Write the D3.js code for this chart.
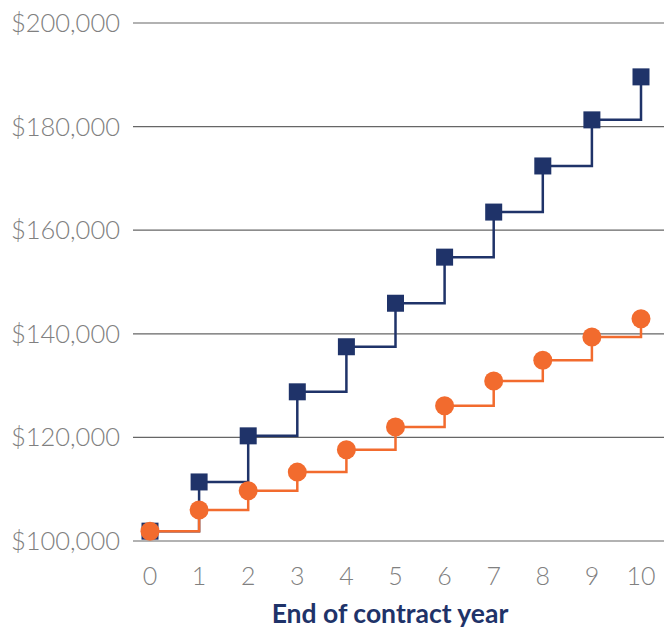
<!DOCTYPE html>
<html><head><meta charset="utf-8">
<script src="https://cdn.jsdelivr.net/npm/d3@7/dist/d3.min.js"></script>
<style>body{margin:0;background:#fff}</style>
</head><body>
<svg id="c" width="664" height="630"></svg>
<script>
const years = [0,1,2,3,4,5,6,7,8,9,10];
const seriesBlue = [101900,111400,120300,128800,137500,145900,154800,163500,172400,181300,189600];
const seriesOrange = [101900,106000,109700,113300,117600,122000,126100,130900,134900,139400,142900];
const yTicks = [100000,120000,140000,160000,180000,200000];
const xTitle = "End of contract year";

const svg = d3.select("#c");
const x = d3.scaleLinear().domain([0,10]).range([150,641]);
const y = d3.scaleLinear().domain([100000,200000]).range([541,23]);
const navy = "#1f3369", orange = "#f26b2e";

svg.append("g").selectAll("line").data(yTicks).join("line")
  .attr("x1",133).attr("x2",664)
  .attr("y1",d=>y(d)).attr("y2",d=>y(d))
  .attr("stroke","#666").attr("stroke-width",1.2);

const fmt = d => "$" + d3.format(",")(d);
svg.append("g").selectAll("text").data(yTicks).join("text")
  .attr("x",120).attr("y",d=>y(d)).attr("dy","0.35em")
  .attr("text-anchor","end")
  .attr("font-family","Lato").attr("font-weight",300).attr("font-size",25.5)
  .attr("fill","#808080").text(fmt);

svg.append("g").selectAll("text").data(years).join("text")
  .attr("x",d=>x(d)).attr("y",576).attr("dy","0.35em")
  .attr("text-anchor","middle")
  .attr("font-family","Lato").attr("font-weight",300).attr("font-size",25)
  .attr("fill","#808080").text(d=>d);

svg.append("text").attr("x",390).attr("y",623)
  .attr("text-anchor","middle")
  .attr("font-family","Lato").attr("font-weight",700).attr("font-size",26.5)
  .attr("fill",navy).text(xTitle);

const line = d3.line().x((d,i)=>x(years[i])).y(d=>y(d)).curve(d3.curveStepAfter);

svg.append("path").datum(seriesBlue).attr("d",line)
  .attr("fill","none").attr("stroke",navy).attr("stroke-width",2.5);
svg.append("g").selectAll("rect").data(seriesBlue).join("rect")
  .attr("x",(d,i)=>x(years[i])-8.5).attr("y",d=>y(d)-8.5)
  .attr("width",17).attr("height",17).attr("fill",navy);

svg.append("path").datum(seriesOrange).attr("d",line)
  .attr("fill","none").attr("stroke",orange).attr("stroke-width",2.5);
svg.append("g").selectAll("circle").data(seriesOrange).join("circle")
  .attr("cx",(d,i)=>x(years[i])).attr("cy",d=>y(d))
  .attr("r",9.5).attr("fill",orange);
</script>
</body></html>
